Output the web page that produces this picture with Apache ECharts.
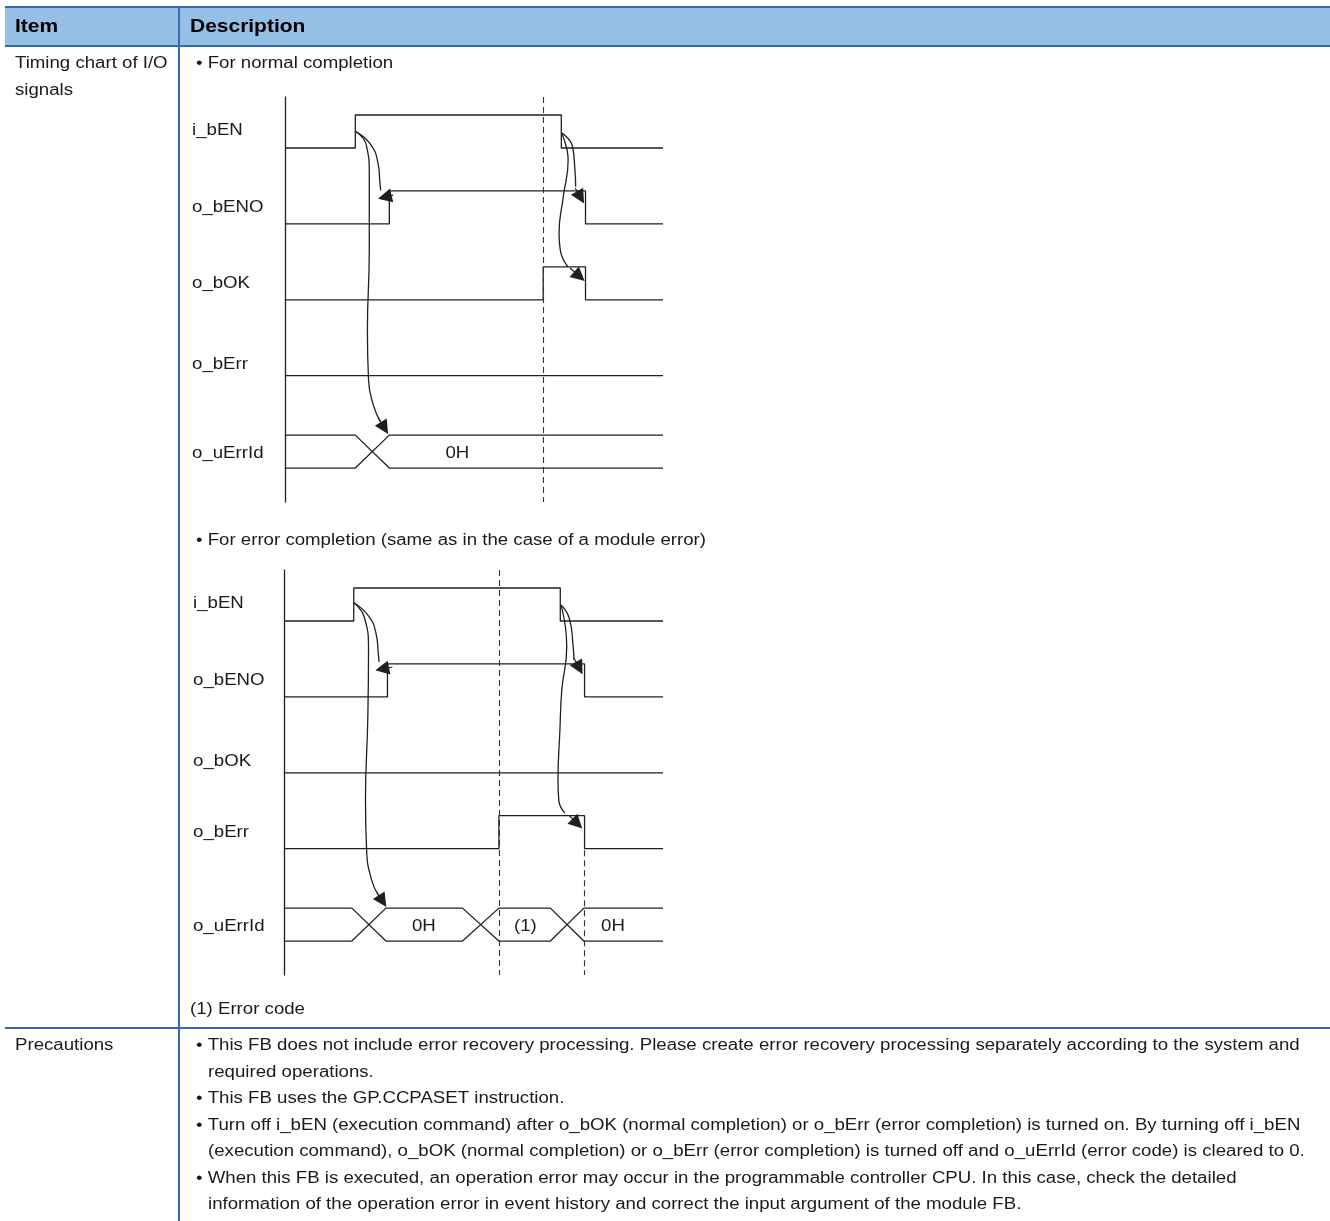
<!DOCTYPE html>
<html><head><meta charset="utf-8">
<script src="https://cdn.jsdelivr.net/npm/echarts@6/dist/echarts.min.js"></script>
<style>html,body{margin:0;padding:0;background:#fff}#c{width:1330px;height:1221px}</style>
</head><body><div id="c"></div>
<script>
// ================= DATA =================
const signalNames = ['i_bEN', 'o_bENO', 'o_bOK', 'o_bErr', 'o_uErrId'];
// time scale 0..100 across each chart; every bit signal starts low and toggles at these times
// --- normal completion ---
const normalEN  = [18.6, 73.1];
const normalENO = [27.6, 79.5];
const normalOK  = [68.3, 79.5];
const normalErr = [];
const normalBusCross = [[18.6, 27.6]];
const normalBusText = ['0H'];
const normalBusTextTime = [45.6];
const normalDashed = [68.3];
// cause/effect arrows: [time, row] path points, arrow heads: [tail, head]
const normalArrowA = [[18.6,-0.22],[22.6,-0.05],[24.6,0.2],[25.1,0.45],[25.3,0.56]];
const normalArrowB = [[18.6,-0.22],[21.5,-0.04],[22.3,0.36],[22.3,1.34],[21.8,2.4],[22.1,3.06],[23.4,3.39],[25.2,3.6]];
const normalArrowC = [[73.1,-0.2],[76.0,-0.03],[76.7,0.29],[76.9,0.51]];
const normalArrowD = [[73.1,-0.2],[74.9,0.16],[73.6,0.65],[72.5,1.12],[72.8,1.34],[74.9,1.57]];
const normalHeads = [[[28.6,0.62],[26.4,0.646]], [[24.6,3.55],[26.3,3.69]], [[76.8,0.53],[78.2,0.65]], [[75.4,1.58],[77.9,1.69]]];
// --- error completion ---
const errorEN  = [18.4, 72.9];
const errorENO = [27.3, 79.3];
const errorOK  = [];
const errorErr = [56.7, 79.3];
const errorBusCross = [[17.9, 26.9], [47.1, 56.7], [70.3, 79.1]];
const errorBusText = ['0H', '(1)', '0H'];
const errorBusTextTime = [36.9, 63.7, 86.8];
const errorDashed = [56.7];
const errorDashedLate = [79.2];
const errorArrowA = [[18.4,-0.24],[22.4,-0.06],[24.3,0.17],[24.9,0.44],[25.1,0.54]];
const errorArrowB = [[18.4,-0.24],[21.2,-0.05],[22.3,0.38],[22.1,1.3],[21.5,2.36],[21.8,3.02],[23.1,3.41],[25.0,3.62]];
const errorArrowC = [[73.1,-0.21],[75.3,-0.03],[76.3,0.34],[76.5,0.51]];
const errorArrowD = [[73.1,-0.21],[74.6,0.34],[73.3,0.91],[72.8,1.44],[72.3,2.1],[72.5,2.36],[74.1,2.53]];
const errorHeads = [[[28.6,0.606],[25.9,0.632]], [[24.3,3.56],[26.0,3.69]], [[76.5,0.49],[77.9,0.62]], [[75.2,2.56],[77.4,2.67]]];
// --- table texts ---
const headerTexts = ['Item', 'Description'];
const itemTexts = ['Timing chart of I/O', 'signals'];
const caseTitles = ['• For normal completion', '• For error completion (same as in the case of a module error)'];
const noteText = '(1) Error code';
const precautionTitle = 'Precautions';
const precautionLines = [
  '• This FB does not include error recovery processing. Please create error recovery processing separately according to the system and',
  'required operations.',
  '• This FB uses the GP.CCPASET instruction.',
  '• Turn off i_bEN (execution command) after o_bOK (normal completion) or o_bErr (error completion) is turned on. By turning off i_bEN',
  '(execution command), o_bOK (normal completion) or o_bErr (error completion) is turned off and o_uErrId (error code) is cleared to 0.',
  '• When this FB is executed, an operation error may occur in the programmable controller CPU. In this case, check the detailed',
  'information of the operation error in event history and correct the input argument of the module FB.'
];

// ================= STYLE / LAYOUT =================
const FONT = '"Liberation Sans", Arial, sans-serif';
const SX = 1.165, SXB = 1.165;
const INK = '#231f20';
const TXT = '#1a1a1a';
const BLUE = '#3767b5';
const HEAD_FILL = '#95bfe5';
const H = 0.435;      // high level height (row units)
const B = 0.217;      // bus half height
const Y_MIN = -0.672, Y_MAX = 4.664;
const LABEL_T = [-24.6, -24.0];
const LABEL_ROWS = [[-0.25, 0.76, 1.76, 2.83, 4], [-0.25, 0.76, 1.83, 2.76, 4]];
const TEXT_NUDGE = 2;   // px, optical vertical centring of chart texts

function lvl(row, v) { return row - v * H; }
function wave(toggles, row) {
  let v = 0; const pts = [[0, lvl(row, 0)]];
  toggles.forEach(t => { pts.push([t, lvl(row, v)]); v = 1 - v; pts.push([t, lvl(row, v)]); });
  pts.push([100, lvl(row, v)]);
  return pts;
}
function bus(crosses, row) {
  let ya = row - B, yb = row + B;
  const a = [[0, ya]], b = [[0, yb]];
  crosses.forEach(([s, e]) => { a.push([s, ya]); b.push([s, yb]); const t = ya; ya = yb; yb = t; a.push([e, ya]); b.push([e, yb]); });
  a.push([100, ya]); b.push([100, yb]);
  return [a, b];
}
function line(g, data, extra) {
  return Object.assign({ type: 'line', xAxisIndex: g, yAxisIndex: g, data, symbol: 'none', showSymbol: false,
    silent: true, animation: false, lineStyle: { color: INK, width: 1.3 }, z: 3 }, extra || {});
}
function texts(g, items, align) {
  return { type: 'custom', coordinateSystem: 'cartesian2d', xAxisIndex: g, yAxisIndex: g, silent: true, clip: false,
    animation: false, data: items.map(it => [it[0], it[1]]),
    renderItem: (p, api) => {
      const c = api.coord([api.value(0), api.value(1)]);
      return { type: 'text', x: c[0], y: c[1] + TEXT_NUDGE, scaleX: SX,
        style: { text: items[p.dataIndex][2], font: '16px ' + FONT, fill: TXT, textAlign: align, textVerticalAlign: 'middle', align: align, verticalAlign: 'middle' } };
    } };
}
function diagram(g, sig, crosses, busText, busTextTime, dashedFull, dashedLate, arrows, heads) {
  const s = [];
  sig.forEach((tg, r) => s.push(line(g, wave(tg, r))));
  const [ba, bb] = bus(crosses, 4);
  const ml = [];
  dashedFull.forEach(t => ml.push({ xAxis: t }));
  dashedLate.forEach(t => ml.push([{ coord: [t, 3.02] }, { coord: [t, Y_MAX] }]));
  s.push(line(g, ba, { markLine: { silent: true, animation: false, symbol: ['none', 'none'], label: { show: false },
    lineStyle: { color: '#333', width: 1.1, type: [6, 4] }, data: ml } }));
  s.push(line(g, bb));
  arrows.forEach(a => s.push(line(g, a, { smooth: 0.5, lineStyle: { color: INK, width: 1.3 } })));
  s.push({ type: 'lines', coordinateSystem: 'cartesian2d', xAxisIndex: g, yAxisIndex: g, silent: true, animation: false,
    symbol: ['none', 'triangle'], symbolSize: [0, 14], lineStyle: { color: INK, width: 1.2, curveness: 0, opacity: 1 },
    data: heads.map(h => ({ coords: h })), z: 4 });
  s.push(texts(g, busText.map((t, i) => [busTextTime[i], 4, t]), 'center'));
  s.push(texts(g, signalNames.map((n, r) => [LABEL_T[g], LABEL_ROWS[g][r], n]), 'left'));
  return s;
}

const series = [].concat(
  diagram(0, [normalEN, normalENO, normalOK, normalErr], normalBusCross, normalBusText, normalBusTextTime, normalDashed, [],
    [normalArrowA, normalArrowB, normalArrowC, normalArrowD], normalHeads),
  diagram(1, [errorEN, errorENO, errorOK, errorErr], errorBusCross, errorBusText, errorBusTextTime, errorDashed, errorDashedLate,
    [errorArrowA, errorArrowB, errorArrowC, errorArrowD], errorHeads)
);

function xAx(g) { return { type: 'value', gridIndex: g, min: 0, max: 100, show: false }; }
function yAx(g) { return { type: 'value', gridIndex: g, min: Y_MIN, max: Y_MAX, inverse: true,
  axisLine: { show: true, lineStyle: { color: INK, width: 1.3 } }, axisTick: { show: false }, axisLabel: { show: false }, splitLine: { show: false } }; }

function gtext(x, y, s, bold) {
  return { type: 'text', x, y, scaleX: bold ? SXB : SX, silent: true, z: 20,
    style: { text: s, font: (bold ? 'bold 18px ' : '16px ') + FONT, fill: bold ? '#000' : TXT, textAlign: 'left', textVerticalAlign: 'middle', align: 'left', verticalAlign: 'middle' } };
}
function gline(x1, y1, x2, y2) {
  return { type: 'line', silent: true, z: 15, shape: { x1, y1, x2, y2 }, style: { stroke: BLUE, lineWidth: 2 } };
}
const TY = 2; // text baseline nudge
const graphic = [
  { type: 'rect', silent: true, z: 1, shape: { x: 5, y: 7, width: 1325, height: 39 }, style: { fill: HEAD_FILL } },
  gline(5, 7, 1330, 7), gline(5, 46, 1330, 46), gline(5, 1028, 1330, 1028), gline(179, 7, 179, 1221),
  gtext(15, 25 + TY, headerTexts[0], true), gtext(190, 25 + TY, headerTexts[1], true),
  gtext(15, 62 + TY, itemTexts[0]), gtext(15, 89 + TY, itemTexts[1]),
  gtext(196, 62 + TY, caseTitles[0]), gtext(196, 539 + TY, caseTitles[1]),
  gtext(190, 1008 + TY, noteText),
  gtext(15, 1044 + TY, precautionTitle)
];
precautionLines.forEach((s, i) => graphic.push(gtext(s.startsWith('•') ? 196 : 208, 1044 + TY + i * 26.5, s)));

const chart = echarts.init(document.getElementById('c'), null, { renderer: 'canvas' });
chart.setOption({
  animation: false,
  backgroundColor: '#fff',
  grid: [
    { left: 285, top: 97, width: 378, height: 405 },
    { left: 284, top: 570, width: 379, height: 405 }
  ],
  xAxis: [xAx(0), xAx(1)],
  yAxis: [yAx(0), yAx(1)],
  series,
  graphic
});
</script></body></html>
